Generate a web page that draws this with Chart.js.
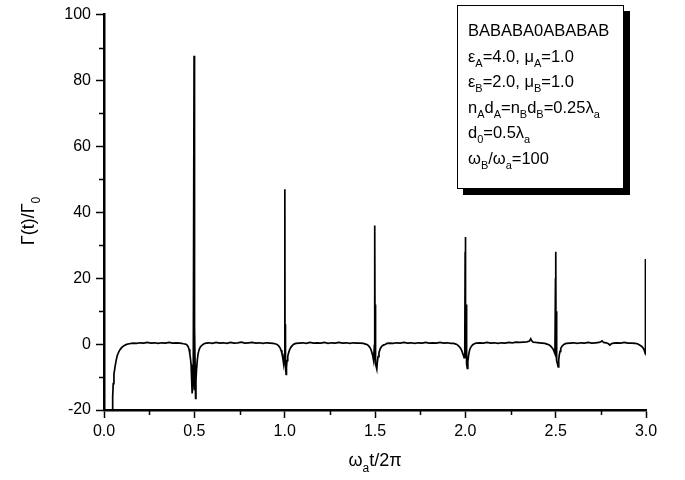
<html><head><meta charset="UTF-8"/>
<title>Gamma(t)/Gamma0</title>
<script src="https://cdn.jsdelivr.net/npm/chart.js"></script>
<style>
* { margin: 0; padding: 0; box-sizing: border-box; }
body { background: #ffffff; width: 685px; height: 480px; overflow: hidden; }
#wrap { width: 685px; height: 480px; }
</style>
</head>
<body>
<div id="wrap"><canvas id="gammaChart" width="685" height="480"></canvas></div>
<script>
// time axis (omega_a t / 2pi) and decay rate Gamma(t)/Gamma0
const tValues = [
    0.046, 0.048, 0.051, 0.055, 0.059, 0.063, 0.068, 0.073, 0.079, 0.086, 0.094, 0.103, 0.113, 0.125, 0.140,
    0.16, 0.18, 0.20, 0.22, 0.24, 0.26, 0.28, 0.30, 0.32, 0.34, 0.36, 0.38, 0.40, 0.42, 0.43,
    0.440, 0.452, 0.460, 0.466, 0.471, 0.475, 0.479, 0.482, 0.484, 0.486, 0.488, 0.494, 0.4985, 0.4995, 0.5005, 0.5015, 0.503, 0.507, 0.509, 0.512, 0.5165, 0.521, 0.527, 0.534, 0.543, 0.553, 0.565,
    0.58, 0.60, 0.62, 0.64, 0.66, 0.68, 0.70, 0.72, 0.74, 0.76, 0.78, 0.80, 0.82, 0.84, 0.86, 0.88, 0.90, 0.92, 0.935,
    0.946, 0.958, 0.968, 0.975, 0.980, 0.985, 0.989, 0.994, 0.998, 1.001, 1.002, 1.003, 1.006, 1.008, 1.010, 1.013, 1.017, 1.022, 1.028, 1.035, 1.043, 1.052, 1.062,
    1.08, 1.10, 1.12, 1.14, 1.16, 1.18, 1.20, 1.22, 1.24, 1.26, 1.28, 1.30, 1.32, 1.34, 1.36, 1.38, 1.40, 1.42, 1.435,
    1.448, 1.458, 1.467, 1.474, 1.479, 1.484, 1.488, 1.492, 1.495, 1.4975, 1.4985, 1.4995, 1.5005, 1.502, 1.504, 1.510, 1.513, 1.517, 1.522, 1.529, 1.537, 1.546, 1.556, 1.566,
    1.58, 1.60, 1.62, 1.64, 1.66, 1.68, 1.70, 1.72, 1.74, 1.76, 1.78, 1.80, 1.82, 1.84, 1.86, 1.88, 1.90, 1.92, 1.935,
    1.948, 1.958, 1.967, 1.975, 1.981, 1.986, 1.990, 1.993, 1.997, 1.999, 2.000, 2.001, 2.002, 2.004, 2.007, 2.011, 2.014, 2.018, 2.022, 2.026, 2.033, 2.041, 2.050, 2.060,
    2.08, 2.10, 2.12, 2.14, 2.16, 2.18, 2.20, 2.22, 2.24, 2.26, 2.28, 2.30, 2.32, 2.34, 2.355, 2.362, 2.368, 2.375, 2.39, 2.41, 2.425, 2.44,
    2.452, 2.462, 2.470, 2.477, 2.483, 2.487, 2.491, 2.496, 2.499, 2.500, 2.501, 2.502, 2.504, 2.507, 2.514, 2.517, 2.520, 2.524, 2.528, 2.534, 2.541, 2.549, 2.558,
    2.58, 2.60, 2.62, 2.64, 2.66, 2.68, 2.70, 2.72, 2.74, 2.75, 2.757, 2.765, 2.78, 2.792, 2.800, 2.808, 2.82, 2.84, 2.86, 2.88, 2.90, 2.92, 2.94,
    2.952, 2.962, 2.971, 2.978, 2.984, 2.989, 2.993, 2.996, 2.997
];
const gammaValues = [
    -21, -16, -12, -9.2, -7.7, -6.2, -4.8, -3.5, -2.7, -1.9, -1.3, -0.8, -0.4, -0.1, 0.1,
    0.3, 0.2, 0.4, 0.3, 0.5, 0.3, 0.4, 0.2, 0.4, 0.3, 0.5, 0.3, 0.4, 0.3, 0.2,
    0.1, 0.0, -0.3, -0.8, -1.6, -2.9, -4.6, -6.2, -7.9, -10.5, -15, -11, 87.5, -12, 49, -14, 5, -16.5, -11, -7.9, -4.8, -2.9, -1.6, -0.8, -0.3, 0.1, 0.3,
    0.4, 0.2, 0.5, 0.3, 0.4, 0.2, 0.5, 0.3, 0.4, 0.6, 0.3, 0.4, 0.5, 0.3, 0.4, 0.2, 0.4, 0.3, 0.2,
    0.1, -0.1, -0.6, -1.2, -1.9, -2.9, -4.0, -5.9, -3, 47, -5, 6, -7, -9.2, -7, -5, -3.7, -2.6, -1.6, -0.9, -0.4, 0.0, 0.2,
    0.3, 0.4, 0.2, 0.5, 0.3, 0.4, 0.3, 0.5, 0.2, 0.4, 0.3, 0.5, 0.3, 0.4, 0.2, 0.4, 0.3, 0.3, 0.2,
    0.0, -0.2, -0.7, -1.2, -1.9, -2.8, -3.7, -4.9, -2, 21, -3, 36, -4, 12, -6, -7.6, -5.5, -3.8, -2.6, -1.4, -0.7, -0.3, -0.1, 0.2,
    0.3, 0.2, 0.4, 0.3, 0.5, 0.3, 0.4, 0.2, 0.4, 0.3, 0.5, 0.3, 0.4, 0.3, 0.5, 0.3, 0.4, 0.2, 0.2,
    0.0, -0.3, -0.8, -1.4, -2.1, -2.9, -3.5, -4.1, -2, 28, -3, 32.5, -4, 12, -6, -7.4, -5.2, -3.4, -2.2, -1.4, -0.7, -0.2, 0.1, 0.3,
    0.4, 0.3, 0.5, 0.3, 0.4, 0.2, 0.4, 0.3, 0.5, 0.4, 0.6, 0.5, 0.6, 0.7, 0.9, 1.6, 1.0, 0.6, 0.5, 0.4, 0.3, 0.2,
    0.0, -0.2, -0.5, -0.9, -1.3, -1.7, -2.2, -2.9, 20, -1.5, 28, -3, 10, -5, -6.9, -4.8, -3.3, -2.2, -1.4, -0.7, -0.3, 0.0, 0.2,
    0.3, 0.4, 0.2, 0.4, 0.3, 0.5, 0.3, 0.4, 0.5, 0.7, 1.0, 0.5, 0.4, 0.1, -0.3, 0.1, 0.3, 0.4, 0.3, 0.5, 0.3, 0.3, 0.2,
    0.1, -0.2, -0.5, -0.8, -1.2, -1.7, -2.3, -2.9, 25.8
];

const xMajorTicks = [0, 0.5, 1.0, 1.5, 2.0, 2.5, 3.0];
const xMinorTicks = [0.25, 0.75, 1.25, 1.75, 2.25, 2.75];
const yMajorTicks = [-20, 0, 20, 40, 60, 80, 100];
const yMinorTicks = [-10, 10, 30, 50, 70, 90];

// label text, _{..} marks a subscript
const xTitle = 'ω_{a}t/2π';
const yTitle = 'Γ(t)/Γ_{0}';
const boxLines = [
    'BABABA0ABABAB',
    'ε_{A}=4.0, μ_{A}=1.0',
    'ε_{B}=2.0, μ_{B}=1.0',
    'n_{A}d_{A}=n_{B}d_{B}=0.25λ_{a}',
    'd_{0}=0.5λ_{a}',
    'ω_{B}/ω_{a}=100'
];

const FONT = "'Liberation Sans', Arial, sans-serif";

function richParts(str) {
    return str.split(/(_\{[^}]*\})/).filter(p => p).map(p =>
        p.startsWith('_{') ? { text: p.slice(2, -1), sub: true } : { text: p, sub: false });
}

function richWidth(ctx, str, size, subSize) {
    let w = 0;
    richParts(str).forEach(p => {
        ctx.font = (p.sub ? subSize : size) + 'px ' + FONT;
        w += ctx.measureText(p.text).width;
    });
    return w;
}

function drawRich(ctx, str, x, y, size, subSize, drop) {
    let cx = x;
    richParts(str).forEach(p => {
        ctx.font = (p.sub ? subSize : size) + 'px ' + FONT;
        ctx.fillText(p.text, cx, p.sub ? y + drop : y);
        cx += ctx.measureText(p.text).width;
    });
}

const decorations = {
    id: 'decorations',
    afterDraw(chart) {
        const ctx = chart.ctx;
        const xs = chart.scales.x;
        const ys = chart.scales.y;
        const area = chart.chartArea;
        ctx.save();
        ctx.strokeStyle = '#000';
        ctx.fillStyle = '#000';
        ctx.lineWidth = 1.5;

        // minor ticks
        ctx.beginPath();
        xMinorTicks.forEach(v => {
            const px = Math.round(xs.getPixelForValue(v)) + 0.5;
            ctx.moveTo(px, area.bottom);
            ctx.lineTo(px, area.bottom + 5);
        });
        yMinorTicks.forEach(v => {
            const py = Math.round(ys.getPixelForValue(v)) + 0.5;
            ctx.moveTo(area.left, py);
            ctx.lineTo(area.left - 5, py);
        });
        ctx.stroke();

        ctx.textBaseline = 'alphabetic';
        ctx.textAlign = 'left';

        // x title
        const xw = richWidth(ctx, xTitle, 18, 12);
        drawRich(ctx, xTitle, (area.left + area.right) / 2 - xw / 2, 466, 18, 12, 6);

        // y title
        const yw = richWidth(ctx, yTitle, 18, 12);
        ctx.save();
        ctx.translate(34, 221);
        ctx.rotate(-Math.PI / 2);
        drawRich(ctx, yTitle, -yw / 2, 0, 18, 12, 6);
        ctx.restore();

        // info box with drop shadow
        ctx.fillStyle = '#000';
        ctx.fillRect(463, 11, 167, 184);
        ctx.fillStyle = '#fff';
        ctx.fillRect(457, 5, 167, 184);
        ctx.lineWidth = 1;
        ctx.strokeRect(457.5, 5.5, 166, 183);
        ctx.fillStyle = '#000';
        boxLines.forEach((line, i) => {
            drawRich(ctx, line, 468, 36 + i * 25.6, 16.5, 11, 5);
        });
        ctx.restore();
    }
};

const points = tValues.map((t, i) => ({ x: t, y: gammaValues[i] }));

const tickFont = { family: FONT, size: 16 };

new Chart(document.getElementById('gammaChart'), {
    type: 'line',
    data: {
        datasets: [{
            data: points,
            borderColor: '#000',
            borderWidth: 1.7,
            pointRadius: 0,
            tension: 0,
            fill: false
        }]
    },
    options: {
        responsive: false,
        animation: false,
        layout: { padding: { left: 0, right: 39, top: 12, bottom: 0 } },
        plugins: { legend: { display: false }, tooltip: { enabled: false } },
        scales: {
            x: {
                type: 'linear',
                min: 0,
                max: 3,
                afterBuildTicks: s => { s.ticks = xMajorTicks.map(v => ({ value: v })); },
                afterFit: s => { s.height = 70; },
                ticks: {
                    color: '#000',
                    font: tickFont,
                    padding: 4,
                    maxRotation: 0,
                    autoSkip: false,
                    callback: v => v.toFixed(1)
                },
                grid: { drawOnChartArea: false, drawTicks: true, tickLength: 8, tickColor: '#000', tickWidth: 1.5 },
                border: { display: true, color: '#000', width: 2.5 }
            },
            y: {
                min: -20,
                max: 100,
                afterBuildTicks: s => { s.ticks = yMajorTicks.map(v => ({ value: v })); },
                afterFit: s => { s.width = 104; },
                ticks: {
                    color: '#000',
                    font: tickFont,
                    padding: 5,
                    autoSkip: false,
                    callback: v => String(v)
                },
                grid: { drawOnChartArea: false, drawTicks: true, tickLength: 8, tickColor: '#000', tickWidth: 1.5 },
                border: { display: true, color: '#000', width: 2.5 }
            }
        }
    },
    plugins: [decorations]
});
</script>
</body></html>
